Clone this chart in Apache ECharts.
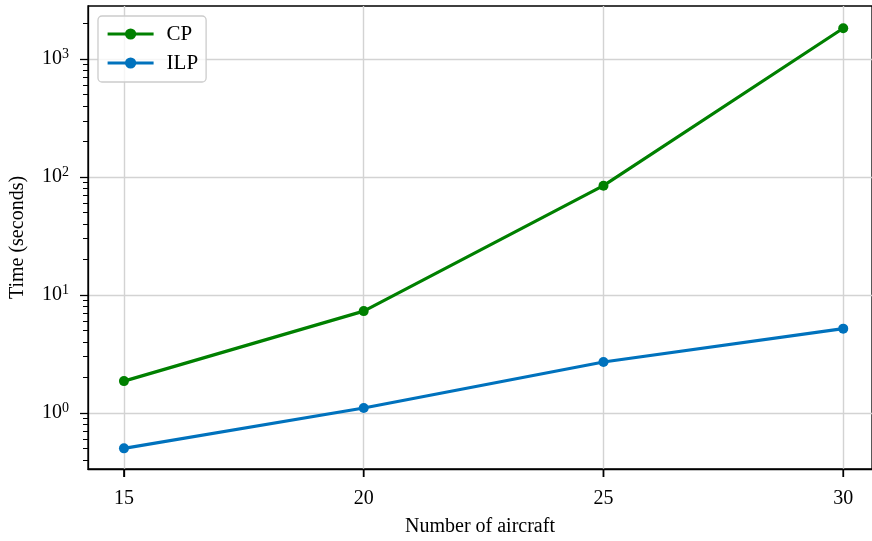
<!DOCTYPE html>
<html><head><meta charset="utf-8">
<script src="https://cdn.jsdelivr.net/npm/echarts@6/dist/echarts.min.js"></script>
<style>html,body{margin:0;padding:0;background:#fff}#c{width:872px;height:541px}</style>
</head><body><div id="c"></div>
<script>
const aircraft = [15, 20, 25, 30];
const cpTime = [1.86, 7.3, 84.5, 1830];
const ilpTime = [0.50, 1.10, 2.70, 5.18];
const xTicks = [15, 20, 25, 30];
const yDecades = [0, 1, 2, 3];
const seriesNames = ['CP', 'ILP'];

const yMin = -0.476, yMax = 3.451;
const SHIFT = 10; // minor-tick helper axis is shifted so that 0 lies outside it
const minorTicks = [];
for (let d = -1; d <= 3; d++) for (let k = 2; k <= 9; k++) {
  const v = d + Math.log10(k);
  if (v > yMin && v < yMax) minorTicks.push(v + SHIFT);
}
const toPts = arr => arr.map((v, i) => [aircraft[i], Math.log10(v)]);
const FONT = '"Liberation Serif", "DejaVu Serif", serif';

const chart = echarts.init(document.getElementById('c'), null, {renderer: 'canvas'});
chart.setOption({
  animation: false,
  backgroundColor: '#fff',
  grid: {left: 88, top: 6, right: 0, bottom: 72, containLabel: false, outerBoundsMode: 'none',
         show: true, borderColor: '#000', borderWidth: 1.3, backgroundColor: 'transparent'},
  legend: {
    orient: 'vertical', left: 98, top: 16,
    itemWidth: 46, itemHeight: 14, itemGap: 7,
    padding: [7, 8, 8, 8],
    backgroundColor: 'rgba(255,255,255,0.8)',
    borderColor: '#cccccc', borderWidth: 1.3, borderRadius: 4,
    lineStyle: {width: 3.2},
    textStyle: {fontFamily: FONT, fontSize: 21, color: '#000', padding: [0, 0, 0, 8], lineHeight: 22},
    data: seriesNames
  },
  xAxis: {
    type: 'value', min: 14.25, max: 30.6, position: 'bottom',
    name: 'Number of aircraft', nameLocation: 'middle', nameGap: 48,
    nameTextStyle: {fontFamily: FONT, fontSize: 20, color: '#000'},
    axisLine: {show: true, onZero: true, onZeroAxisIndex: 1, lineStyle: {color: '#000', width: 1.3}},
    axisTick: {show: true, inside: false, length: 8, lineStyle: {color: '#000', width: 1.3}, customValues: xTicks},
    axisLabel: {fontFamily: FONT, fontSize: 20, color: '#000', margin: 20, customValues: xTicks},
    splitLine: {show: true, lineStyle: {color: '#d3d3d3', width: 1.4}}
  },
  yAxis: [{
    type: 'value', min: yMin, max: yMax,
    name: 'Time (seconds)', nameLocation: 'middle', nameGap: 60,
    nameTextStyle: {fontFamily: FONT, fontSize: 20, color: '#000'},
    axisLine: {show: true, onZero: false, lineStyle: {color: '#000', width: 1.3}},
    axisTick: {show: true, length: 8, lineStyle: {color: '#000', width: 1.3}, customValues: yDecades},
    axisLabel: {
      fontFamily: FONT, fontSize: 20, color: '#000', margin: 19, customValues: yDecades,
      formatter: v => '10{s|' + Math.round(v) + '}',
      rich: {s: {fontFamily: FONT, fontSize: 14, color: '#000', padding: [0, 0, 9, 0]}}
    },
    splitLine: {show: true, lineStyle: {color: '#d3d3d3', width: 1.4}}
  }, {
    type: 'value', min: yMin + SHIFT, max: yMax + SHIFT, position: 'left',
    axisLine: {show: false, onZero: false},
    axisTick: {show: true, length: 5, lineStyle: {color: '#000', width: 1}, customValues: minorTicks},
    axisLabel: {show: false},
    splitLine: {show: false}
  }],
  series: [{
    name: seriesNames[0], type: 'line', data: toPts(cpTime),
    color: '#008000', symbol: 'circle', symbolSize: 10,
    lineStyle: {width: 3.2, color: '#008000'}, itemStyle: {color: '#008000'}
  }, {
    name: seriesNames[1], type: 'line', data: toPts(ilpTime),
    color: '#0072BD', symbol: 'circle', symbolSize: 10,
    lineStyle: {width: 3.2, color: '#0072BD'}, itemStyle: {color: '#0072BD'}
  }]
});

// x-axis tick marks placed through the chart's own x scale
const yBottom = chart.convertToPixel({yAxisIndex: 0}, yMin);
chart.setOption({
  graphic: xTicks.map(v => {
    const px = chart.convertToPixel({xAxisIndex: 0}, v);
    return {
      type: 'line', z: 100, silent: true,
      shape: {x1: px, y1: yBottom, x2: px, y2: yBottom + 8},
      style: {stroke: '#000000', lineWidth: 1.6}
    };
  })
});
</script>
</body></html>
